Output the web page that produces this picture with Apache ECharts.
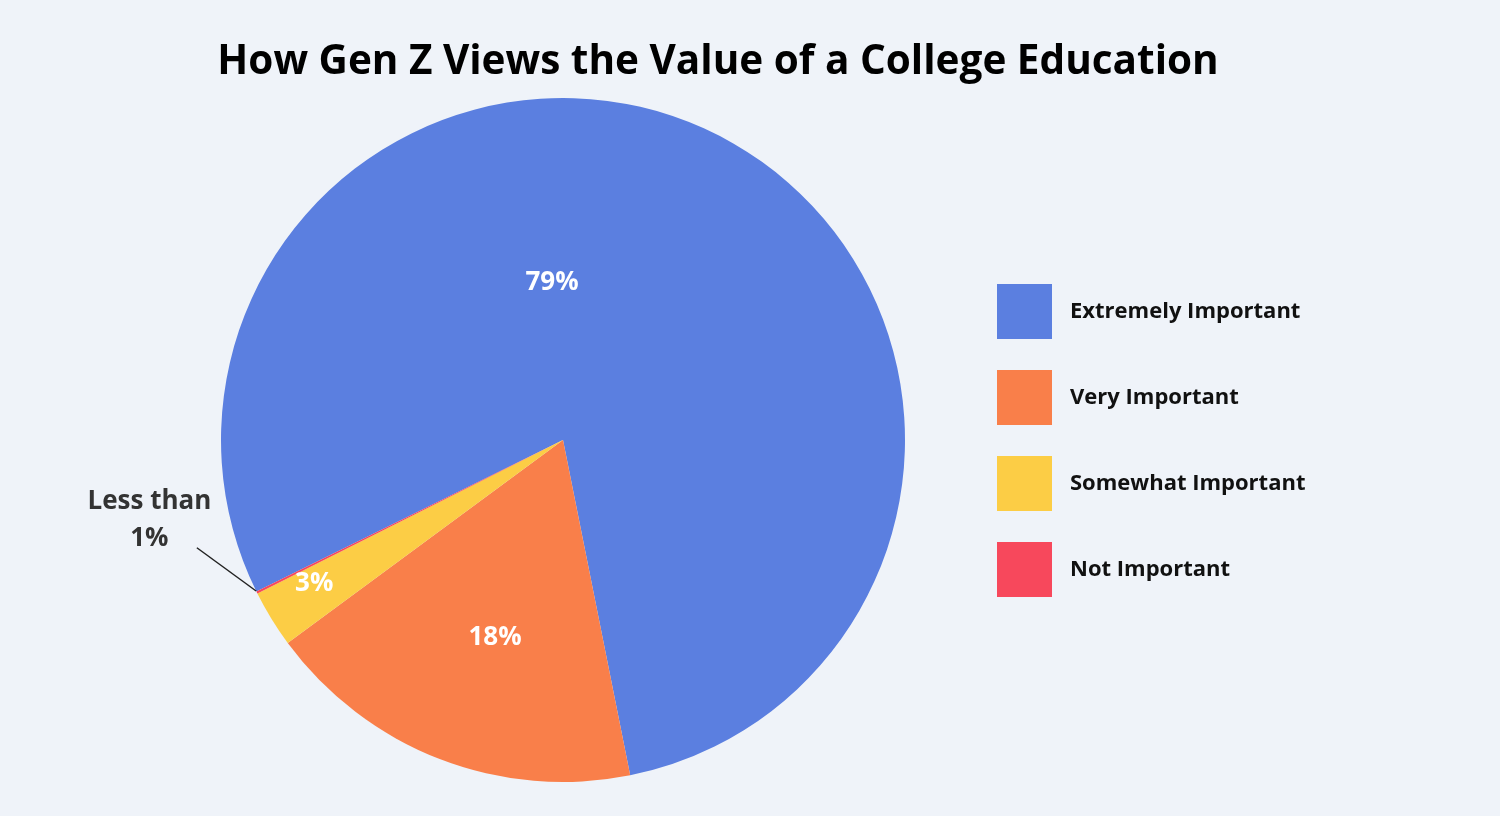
<!DOCTYPE html>
<html>
<head>
<meta charset="utf-8">
<title>How Gen Z Views the Value of a College Education</title>
<script src="https://cdn.jsdelivr.net/npm/echarts@6/dist/echarts.min.js"></script>
<style>
  html, body { margin: 0; padding: 0; background: #eff3f9; }
  #main { width: 1500px; height: 816px; }
</style>
</head>
<body>
<div id="main"></div>
<script>
// data
var categories = ['Extremely Important', 'Very Important', 'Somewhat Important', 'Not Important'];
var shares = [79, 18, 2.7, 0.1];
var shareLabels = ['79%', '18%', '3%', 'Less than\n1%'];
var colors = ['#5b7fe0', '#f97f4a', '#fccd45', '#f7485c'];

// pie geometry
var cx = 563, cy = 440, R = 342;
// label spots: [angle clockwise from 12 o'clock, fraction of radius]
var labelSpots = [[356, 0.46], [199, 0.61], [240, 0.84], [259, 1.232]];
// leader line for the tiny slice: from the rim out towards its label
var leader = [[243.8, 1.0], [253.6, 1.116]];

function polar(deg, frac) {
    var a = deg * Math.PI / 180;
    return [cx + R * frac * Math.sin(a), cy - R * frac * Math.cos(a)];
}

var chart = echarts.init(document.getElementById('main'));

var p0 = polar(leader[0][0], leader[0][1]);
var p1 = polar(leader[1][0], leader[1][1]);

var option = {
    backgroundColor: '#eff3f9',
    animation: false,
    title: {
        text: 'How Gen Z Views the Value of a College Education',
        left: 713,
        top: 37,
        textAlign: 'center',
        textStyle: {
            fontFamily: 'Open Sans',
            fontWeight: 'bold',
            fontSize: 40.5,
            color: '#000'
        }
    },
    legend: {
        orient: 'vertical',
        left: 992,
        top: 279,
        icon: 'rect',
        itemWidth: 55,
        itemHeight: 55,
        itemGap: 31,
        selectedMode: false,
        data: categories,
        textStyle: {
            fontFamily: 'Open Sans',
            fontWeight: 'bold',
            fontSize: 22,
            color: '#111',
            padding: [4, 0, 0, 13]
        }
    },
    graphic: [{
        type: 'line',
        z: 10,
        shape: { x1: p0[0], y1: p0[1], x2: p1[0], y2: p1[1] },
        style: { stroke: '#222', lineWidth: 1.5 }
    }],
    series: [{
        type: 'pie',
        center: [cx, cy],
        radius: R,
        startAngle: 206.3,
        clockwise: true,
        avoidLabelOverlap: false,
        data: categories.map(function (c, i) {
            return {
                name: c,
                value: shares[i],
                itemStyle: { color: colors[i] },
                label: i === 3 ? { color: '#333' } : {}
            };
        }),
        label: {
            show: true,
            position: 'inside',
            formatter: function (p) { return shareLabels[p.dataIndex]; },
            fontFamily: 'Open Sans',
            fontWeight: 'bold',
            fontSize: 26,
            lineHeight: 37,
            color: '#fff'
        },
        labelLine: { show: false },
        labelLayout: function (params) {
            var i = params.dataIndex;
            var p = polar(labelSpots[i][0], labelSpots[i][1]);
            return { x: p[0], y: p[1], align: 'center', verticalAlign: 'middle' };
        }
    }]
};

chart.setOption(option);
</script>
</body>
</html>
